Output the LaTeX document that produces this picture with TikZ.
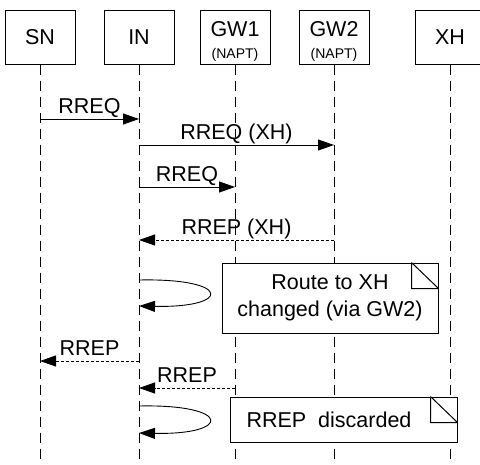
\documentclass[tikz,border=0pt]{standalone}
\usepackage{fontspec}
\setmainfont{Liberation Sans}
\usetikzlibrary{arrows.meta,positioning,calc}
\newcommand{\msgfont}{\fontsize{21.5}{25.8}\selectfont}
\newcommand{\naptfont}{\fontsize{14}{16.8}\selectfont}

\begin{document}
\begin{tikzpicture}[x=1pt, y=-1pt,
    hdr/.style={rectangle, draw, line width=1pt, minimum width=70pt,
                minimum height=54pt, inner sep=0pt, font=\msgfont, align=center},
    life/.style={line width=0.9pt, dash pattern=on 10pt off 6pt},
    msg/.style={-{Triangle[length=16pt,width=11pt]}, line width=0.9pt},
    rep/.style={msg, dash pattern=on 3pt off 2pt},
    lbl/.style={font=\msgfont, anchor=base, yshift=6pt, inner sep=0pt},
    note/.style={rectangle, draw, fill=white, line width=1pt,
                 font=\msgfont, align=center, inner sep=0pt}
  ]
    \useasboundingbox (0,0) rectangle (480,464);
    \node[hdr] (sn)  at (40,37)  {SN};
    \node[hdr] (in)  at (139,37) {IN};
    \node[hdr] (gw1) at (235,37) {\rule{0pt}{24pt}GW1\\[-4pt]{\naptfont (NAPT)}};
    \node[hdr] (gw2) at (334,37) {\rule{0pt}{24pt}GW2\\[-4pt]{\naptfont (NAPT)}};
    \node[hdr] (xh)  at (450,37) {XH};
    % lifelines
    \coordinate (bot) at (0,464);
    \foreach \n in {sn,in,gw1,gw2,xh}
      \draw[life] (\n.south) -- (\n.south |- bot);
    % message rows
    \foreach \k/\y in {m1/119, m2/145, m3/187, m4/240, s1a/280, s1b/306,
                       m5/361, m6/388, s2a/406, s2b/433}
      \coordinate (\k) at (0,\y);
    \draw[msg] (sn.south |- m1) -- node[lbl]{RREQ} (in.south |- m1);
    \draw[msg] (in.south |- m2) -- node[lbl]{RREQ (XH)} (gw2.south |- m2);
    \draw[msg] (in.south |- m3) -- node[lbl]{RREQ} (gw1.south |- m3);
    \draw[rep] (gw2.south |- m4) -- node[lbl]{RREP (XH)} (in.south |- m4);
    \draw[msg] (in.south |- s1a) .. controls +(93,-2) and +(93,2) .. (in.south |- s1b);
    \node[note, minimum width=216pt, minimum height=70pt] (note1) at (330,298)
      {Route to XH\\[1pt]changed (via GW2)};
    \draw[rep] (in.south |- m5) -- node[lbl]{RREP} (sn.south |- m5);
    \draw[rep] (gw1.south |- m6) -- node[lbl]{RREP} (in.south |- m6);
    \draw[msg] (in.south |- s2a) .. controls +(93,-2) and +(93,2) .. (in.south |- s2b);
    \node[note, minimum width=227pt, minimum height=45pt] (note2) at (343.5,419.5)
      {RREP~~discarded\hspace*{29pt}};
    % folded corners
    \foreach \n in {note1,note2}
      \draw[line width=1pt] ([xshift=-27pt]\n.north east) -- ([xshift=-27pt,yshift=-26pt]\n.north east)
        -- ([yshift=-26pt]\n.north east) ([xshift=-27pt]\n.north east) -- ([yshift=-26pt]\n.north east);
\end{tikzpicture}
\end{document}
